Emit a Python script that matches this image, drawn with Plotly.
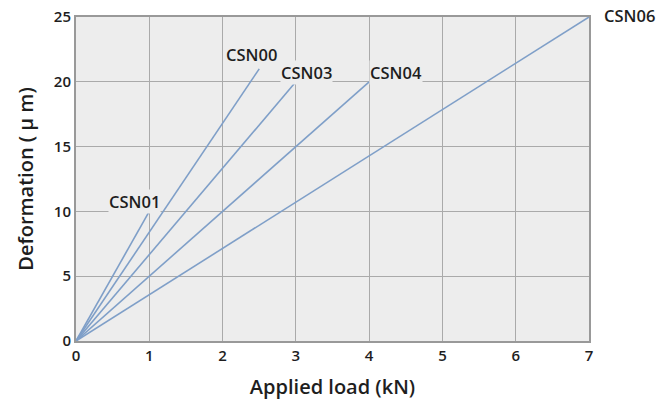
import plotly.graph_objects as go

models = ["CSN01", "CSN00", "CSN03", "CSN04", "CSN06"]
max_load = [1, 2.5, 3, 4, 7]
max_def = [10, 21, 20, 20, 25]
label_x = [0.8, 2.39, 3.14, 4.37, 7.55]
label_y = [10.8, 22.1, 20.7, 20.7, 25.1]
x_ticks = [0, 1, 2, 3, 4, 5, 6, 7]
y_ticks = [0, 5, 10, 15, 20, 25]

FONT = "Open Sans"
XMAX, YMAX = 7, 25
fig = go.Figure()
for m, lx, ly in zip(models, max_load, max_def):
    fig.add_trace(go.Scatter(x=[0, lx], y=[0, ly], mode="lines",
                             line=dict(color="#7f9fc8", width=1.6),
                             showlegend=False, hoverinfo="skip"))
for m, tx, ty in zip(models, label_x, label_y):
    fig.add_annotation(x=tx / XMAX, y=ty / YMAX, xref="paper", yref="paper",
                       xanchor="center", yanchor="middle",
                       text=m, showarrow=False,
                       font=dict(family=FONT, size=16.5, color="#1e1e1e", weight=600),
                       bgcolor="#ededed" if tx < XMAX else "rgba(0,0,0,0)",
                       borderpad=0)

fig.update_layout(
    width=667, height=400,
    margin=dict(l=76, r=78, t=17, b=59),
    paper_bgcolor="white", plot_bgcolor="#ededed",
    font=dict(family=FONT, size=15, color="#1e1e1e", weight=600),
    xaxis=dict(range=[0, XMAX], tickvals=x_ticks, showgrid=True, gridcolor="#aaaaaa",
               gridwidth=1, zeroline=False, showline=True, linecolor="#999999",
               linewidth=2, mirror=True, ticks="", ticklen=0, automargin=False,
               title=dict(text="Applied load (kN)", font=dict(size=20, weight=600), standoff=16),
               fixedrange=True),
    yaxis=dict(range=[0, YMAX], tickvals=y_ticks, showgrid=True, gridcolor="#aaaaaa",
               gridwidth=1, zeroline=False, showline=True, linecolor="#999999",
               linewidth=2, mirror=True, ticks="", ticklen=0, automargin=False,
               title=dict(text="Deformation ( μ m)", font=dict(size=20, weight=600), standoff=15),
               fixedrange=True),
)
fig.write_html("out.html", config={"displayModeBar": False},
               post_script="document.body.style.margin='0';")
